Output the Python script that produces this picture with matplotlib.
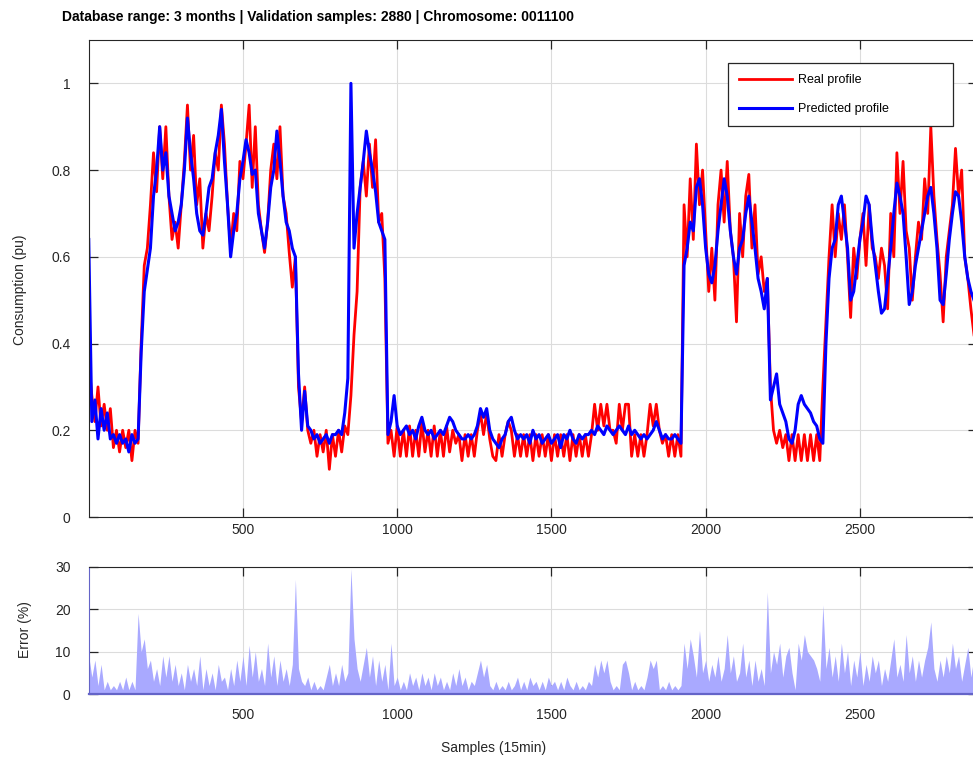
"""Real vs predicted consumption profile with per-sample error (validation set)."""
import numpy as np
import matplotlib
matplotlib.use("Agg")
import matplotlib.pyplot as plt

plt.rcParams["font.family"] = ["Liberation Sans", "DejaVu Sans"]

# values every 10 samples (15-min resolution)
step = 10
n_samples = 2880

real_profile = [
    0.36, 0.28, 0.22, 0.30, 0.21, 0.26, 0.20, 0.25, 0.16, 0.20,
    0.15, 0.20, 0.16, 0.20, 0.13, 0.20, 0.17, 0.40, 0.58, 0.62,
    0.72, 0.84, 0.75, 0.90, 0.78, 0.90, 0.74, 0.64, 0.68, 0.62,
    0.72, 0.82, 0.95, 0.80, 0.88, 0.72, 0.78, 0.62, 0.70, 0.66,
    0.74, 0.84, 0.80, 0.95, 0.86, 0.72, 0.62, 0.70, 0.66, 0.82,
    0.78, 0.86, 0.95, 0.76, 0.90, 0.72, 0.66, 0.61, 0.68, 0.80,
    0.86, 0.78, 0.90, 0.74, 0.70, 0.61, 0.53, 0.60, 0.30, 0.22,
    0.30, 0.20, 0.17, 0.20, 0.14, 0.19, 0.15, 0.20, 0.11, 0.19,
    0.14, 0.20, 0.15, 0.21, 0.19, 0.28, 0.42, 0.52, 0.76, 0.82,
    0.74, 0.86, 0.76, 0.87, 0.68, 0.70, 0.55, 0.17, 0.20, 0.14,
    0.21, 0.14, 0.20, 0.14, 0.21, 0.14, 0.20, 0.14, 0.22, 0.15,
    0.20, 0.14, 0.21, 0.14, 0.20, 0.14, 0.21, 0.15, 0.20, 0.17,
    0.19, 0.13, 0.19, 0.14, 0.19, 0.14, 0.20, 0.24, 0.19, 0.24,
    0.18, 0.14, 0.13, 0.19, 0.14, 0.19, 0.22, 0.20, 0.14, 0.19,
    0.14, 0.19, 0.14, 0.19, 0.13, 0.19, 0.14, 0.19, 0.14, 0.19,
    0.13, 0.19, 0.14, 0.19, 0.14, 0.19, 0.13, 0.19, 0.14, 0.19,
    0.14, 0.19, 0.14, 0.19, 0.26, 0.20, 0.26, 0.21, 0.26, 0.20,
    0.20, 0.17, 0.26, 0.20, 0.26, 0.26, 0.14, 0.19, 0.14, 0.19,
    0.14, 0.19, 0.26, 0.21, 0.26, 0.20, 0.17, 0.19, 0.14, 0.19,
    0.14, 0.19, 0.14, 0.72, 0.60, 0.78, 0.64, 0.86, 0.72, 0.80,
    0.66, 0.52, 0.62, 0.50, 0.72, 0.80, 0.68, 0.82, 0.66, 0.60,
    0.45, 0.70, 0.60, 0.74, 0.79, 0.62, 0.72, 0.56, 0.60, 0.52,
    0.55, 0.30, 0.20, 0.17, 0.20, 0.16, 0.19, 0.13, 0.19, 0.13,
    0.19, 0.13, 0.19, 0.13, 0.19, 0.13, 0.19, 0.13, 0.30, 0.45,
    0.60, 0.72, 0.60, 0.70, 0.64, 0.72, 0.60, 0.46, 0.62, 0.55,
    0.64, 0.70, 0.58, 0.72, 0.62, 0.60, 0.55, 0.62, 0.58, 0.48,
    0.70, 0.60, 0.84, 0.70, 0.82, 0.66, 0.62, 0.50, 0.60, 0.68,
    0.64, 0.78, 0.70, 0.90, 0.74, 0.64, 0.56, 0.45, 0.60, 0.66,
    0.72, 0.85, 0.74, 0.80, 0.60, 0.55, 0.48, 0.42, 0.45,
]

predicted_profile = [
    0.64, 0.22, 0.27, 0.18, 0.25, 0.20, 0.24, 0.18, 0.19, 0.17,
    0.19, 0.17, 0.18, 0.15, 0.19, 0.17, 0.18, 0.38, 0.52, 0.57,
    0.62, 0.74, 0.80, 0.90, 0.80, 0.84, 0.74, 0.70, 0.66, 0.68,
    0.72, 0.80, 0.92, 0.84, 0.78, 0.70, 0.66, 0.65, 0.70, 0.76,
    0.78, 0.84, 0.88, 0.94, 0.82, 0.72, 0.60, 0.66, 0.70, 0.78,
    0.82, 0.87, 0.84, 0.79, 0.80, 0.70, 0.66, 0.62, 0.68, 0.76,
    0.80, 0.89, 0.82, 0.74, 0.68, 0.66, 0.62, 0.60, 0.33, 0.20,
    0.29, 0.21, 0.20, 0.18, 0.19, 0.17, 0.18, 0.19, 0.17, 0.19,
    0.19, 0.20, 0.19, 0.24, 0.32, 1.00, 0.62, 0.70, 0.76, 0.82,
    0.89, 0.84, 0.80, 0.75, 0.68, 0.66, 0.64, 0.19, 0.22, 0.28,
    0.21, 0.19, 0.20, 0.21, 0.19, 0.20, 0.18, 0.21, 0.23, 0.20,
    0.19, 0.20, 0.18, 0.19, 0.20, 0.19, 0.21, 0.23, 0.22, 0.20,
    0.19, 0.18, 0.18, 0.19, 0.18, 0.19, 0.21, 0.25, 0.23, 0.25,
    0.20, 0.18, 0.17, 0.16, 0.18, 0.19, 0.22, 0.23, 0.20, 0.18,
    0.19, 0.18, 0.19, 0.17, 0.20, 0.18, 0.19, 0.17, 0.18, 0.19,
    0.17, 0.18, 0.19, 0.16, 0.19, 0.18, 0.20, 0.18, 0.17, 0.19,
    0.18, 0.19, 0.19, 0.20, 0.19, 0.21, 0.20, 0.19, 0.21, 0.20,
    0.19, 0.20, 0.21, 0.20, 0.19, 0.21, 0.19, 0.20, 0.19, 0.18,
    0.19, 0.18, 0.19, 0.20, 0.22, 0.20, 0.18, 0.19, 0.18, 0.18,
    0.19, 0.18, 0.17, 0.58, 0.62, 0.68, 0.66, 0.76, 0.78, 0.72,
    0.62, 0.56, 0.54, 0.58, 0.66, 0.72, 0.78, 0.74, 0.66, 0.60,
    0.56, 0.62, 0.64, 0.70, 0.74, 0.68, 0.62, 0.55, 0.52, 0.48,
    0.55, 0.27, 0.30, 0.33, 0.26, 0.24, 0.22, 0.18, 0.17, 0.20,
    0.26, 0.28, 0.26, 0.25, 0.24, 0.22, 0.21, 0.18, 0.17, 0.40,
    0.55, 0.62, 0.64, 0.72, 0.74, 0.68, 0.62, 0.50, 0.52, 0.58,
    0.64, 0.68, 0.74, 0.72, 0.64, 0.58, 0.52, 0.47, 0.48, 0.55,
    0.62, 0.70, 0.77, 0.74, 0.70, 0.60, 0.49, 0.52, 0.58, 0.62,
    0.66, 0.70, 0.74, 0.76, 0.70, 0.62, 0.50, 0.49, 0.56, 0.64,
    0.70, 0.75, 0.74, 0.68, 0.60, 0.55, 0.52, 0.50, 0.52,
]

error_pct = [
    9, 4, 8, 2, 7, 1, 3, 1, 2, 1,
    3, 1, 4, 1, 3, 1, 19, 10, 13, 6,
    8, 3, 6, 2, 9, 4, 9, 3, 7, 2,
    5, 1, 7, 3, 6, 2, 9, 1, 6, 2,
    5, 1, 7, 3, 4, 1, 6, 2, 8, 3,
    9, 2, 11.5, 4, 10, 3, 6, 2, 12, 4,
    9, 2, 8, 3, 6, 2, 7, 27, 6, 3,
    2, 4, 1, 3, 1, 2, 1, 4, 7, 2,
    5, 2, 7, 3, 5, 29.5, 13, 6, 3, 7,
    11, 4, 9, 2, 8, 3, 7, 1, 12, 2,
    4, 1, 3, 1, 5, 2, 4, 1, 5, 2,
    4, 1, 5, 2, 4, 1, 3, 1, 5, 2,
    6, 2, 4, 1, 3, 2, 5, 8, 4, 7,
    2, 1, 3, 1, 2, 1, 3, 1, 2, 4,
    1, 3, 1, 4, 2, 3, 1, 3, 1, 4,
    2, 3, 1, 3, 1, 4, 2, 1, 3, 1,
    2, 1, 3, 2, 7, 4, 8, 5, 8, 3,
    1, 2, 1, 7, 8, 5, 1, 3, 1, 2,
    1, 4, 8, 6, 8, 1, 2, 1, 3, 1,
    2, 1, 2, 12, 6, 13, 9, 4, 15, 5,
    8, 3, 7, 4, 9, 3, 6, 14, 5, 9,
    3, 5, 12, 4, 8, 2, 8, 3, 6, 2,
    24, 5, 10, 7, 12, 4, 9, 11, 5, 1,
    12, 8, 14, 10, 9, 8, 6, 3, 21, 6,
    11, 4, 9, 3, 12, 5, 10, 2, 8, 4,
    10, 2, 7, 3, 9, 5, 8, 2, 6, 3,
    8, 13, 4, 7, 3, 14, 5, 9, 3, 8,
    4, 8, 11, 17, 6, 3, 8, 4, 9, 5,
    12, 6, 9, 3, 7, 11, 4, 9, 5,
]

title = "Database range: 3 months | Validation samples: 2880 | Chromosome: 0011100"

samples = np.arange(0, n_samples + 1, step)
text_col = "#262626"

fig = plt.figure(figsize=(9.73, 7.63), dpi=100)
ax1 = fig.add_axes([0.0912, 0.3224, 0.913, 0.6252])
ax2 = fig.add_axes([0.0912, 0.0904, 0.913, 0.1669])

# top panel: profiles
ax1.plot(samples, real_profile, color="red", linewidth=2.0, label="Real profile")
ax1.plot(samples, predicted_profile, color="blue", linewidth=2.2,
         label="Predicted profile")
ax1.set_xlim(0, n_samples)
ax1.set_ylim(0, 1.1)
ax1.set_xticks([500, 1000, 1500, 2000, 2500])
ax1.set_yticks([0, 0.2, 0.4, 0.6, 0.8, 1.0])
ax1.set_yticklabels(["0", "0.2", "0.4", "0.6", "0.8", "1"])
ax1.tick_params(axis="x", pad=4)

leg = ax1.legend(loc="upper left", bbox_to_anchor=(0.7194, 0.8646, 0.2536, 0.087),
                 mode="expand", borderaxespad=0, fontsize=9, handlelength=4.2,
                 handletextpad=0.5, labelspacing=1.35, borderpad=0.9,
                 fancybox=False, framealpha=1, edgecolor=text_col)
leg.get_frame().set_linewidth(0.9)

# bottom panel: error area
ax2.fill_between(samples, 0, error_pct, color="#a9a9ff", linewidth=0)
ax2.set_xlim(0, n_samples)
ax2.set_ylim(0, 30)
ax2.set_xticks([500, 1000, 1500, 2000, 2500])
ax2.set_yticks([0, 10, 20, 30])
ax2.tick_params(axis="x", pad=10)
ax2.spines["bottom"].set_color("#6464c8")
ax2.spines["bottom"].set_linewidth(1.6)
ax2.spines["left"].set_color("#6464c8")

for ax in (ax1, ax2):
    ax.grid(True, color="#dcdcdc", linewidth=0.8)
    ax.set_axisbelow(True)
    ax.tick_params(direction="in", length=6.5, width=0.9, top=True, right=True,
                   colors=text_col, labelsize=10)
    ax.tick_params(axis="y", pad=13)
    for side in ("top", "right"):
        ax.spines[side].set_color(text_col)
ax1.spines["left"].set_color(text_col)
ax1.spines["bottom"].set_color(text_col)

fig.text(62 / 973, 1 - 17 / 763, title, fontsize=10, fontweight="bold",
         ha="left", va="center", color="black")
fig.text(20 / 973, 1 - 290 / 763, "Consumption (pu)", fontsize=10,
         rotation=90, ha="center", va="center", color=text_col)
fig.text(25 / 973, 1 - 630 / 763, "Error (%)", fontsize=10,
         rotation=90, ha="center", va="center", color=text_col)
fig.text(494 / 973, 1 - 748 / 763, "Samples (15min)", fontsize=10,
         ha="center", va="center", color=text_col)

fig.savefig("out.png", dpi=100)
